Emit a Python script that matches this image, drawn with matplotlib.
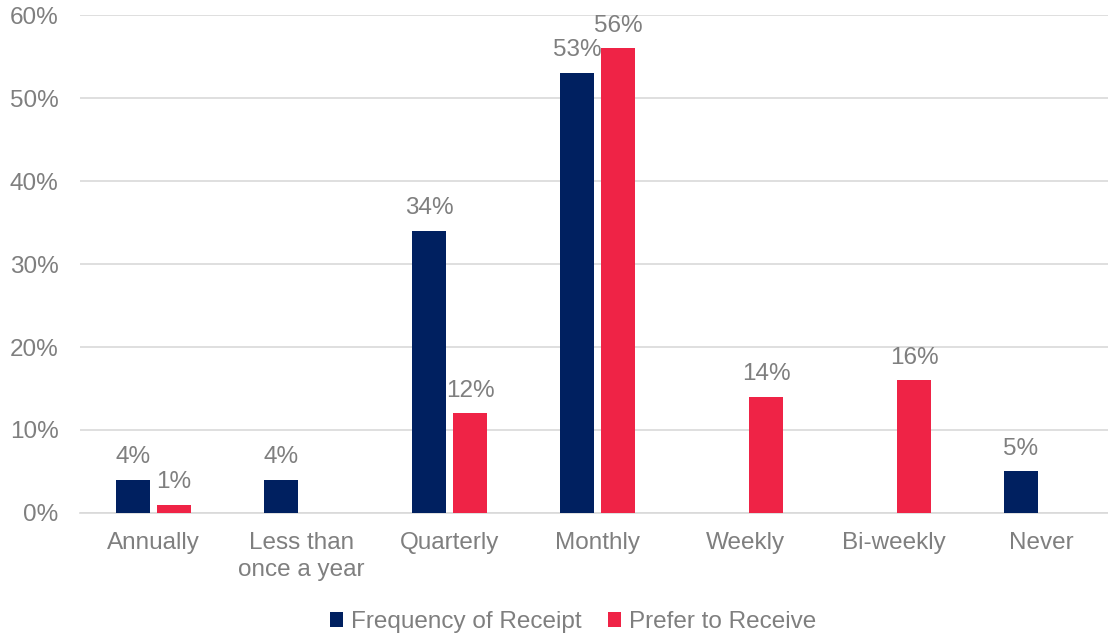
import matplotlib
matplotlib.use("Agg")
import matplotlib.pyplot as plt
import numpy as np

categories = ["Annually", "Less than\nonce a year", "Quarterly", "Monthly", "Weekly", "Bi-weekly", "Never"]
receipt = [4, 4, 34, 53, None, None, 5]
prefer = [1, None, 12, 56, 14, 16, None]
series_names = ["Frequency of Receipt", "Prefer to Receive"]
yticks = [0, 10, 20, 30, 40, 50, 60]

navy = "#002060"
red = "#EF2346"
gray = "#7F7F7F"
fs = 17.5

plt.rcParams['font.family'] = ['Liberation Sans', 'DejaVu Sans']

fig = plt.figure(figsize=(11.08, 6.36), dpi=100)
ax = fig.add_axes([0.0718, 0.1934, 0.935, 0.783])

x = np.arange(len(categories))
w = 0.23
off = 0.139

for vals, dx, col, name in [(receipt, -off, navy, series_names[0]), (prefer, off, red, series_names[1])]:
    xs = [xi + dx for xi, v in zip(x, vals) if v is not None]
    vs = [v for v in vals if v is not None]
    ax.bar(xs, vs, width=w, color=col, label=name, zorder=3)
    for xi, v in zip(xs, vs):
        ax.text(xi, v + 1.4, f"{v}%", ha="center", va="bottom", fontsize=fs, color=gray)

ax.set_xlim(-0.5, len(categories) - 0.5)
ax.set_ylim(0, 60)
ax.set_yticks(yticks)
ax.set_yticklabels([f"{t}%" for t in yticks], fontsize=fs, color=gray)
ax.set_xticks(x)
ax.set_xticklabels(categories, fontsize=fs, color=gray, linespacing=1.25)
ax.tick_params(axis="x", length=0, pad=14)
ax.tick_params(axis="y", length=0, pad=15)
ax.yaxis.grid(True, color="#D9D9D9", linewidth=1.2, zorder=0)
for s in ["top", "right", "left"]:
    ax.spines[s].set_visible(False)
ax.spines["bottom"].set_color("#D9D9D9")
ax.spines["bottom"].set_linewidth(1.2)

leg = fig.legend(loc="lower center", bbox_to_anchor=(0.517, -0.03), ncol=2, frameon=False,
                 fontsize=fs, handlelength=0.55, handleheight=0.55, handletextpad=0.3,
                 columnspacing=1.1)
for t in leg.get_texts():
    t.set_color(gray)

fig.savefig("out.png", dpi=100)
